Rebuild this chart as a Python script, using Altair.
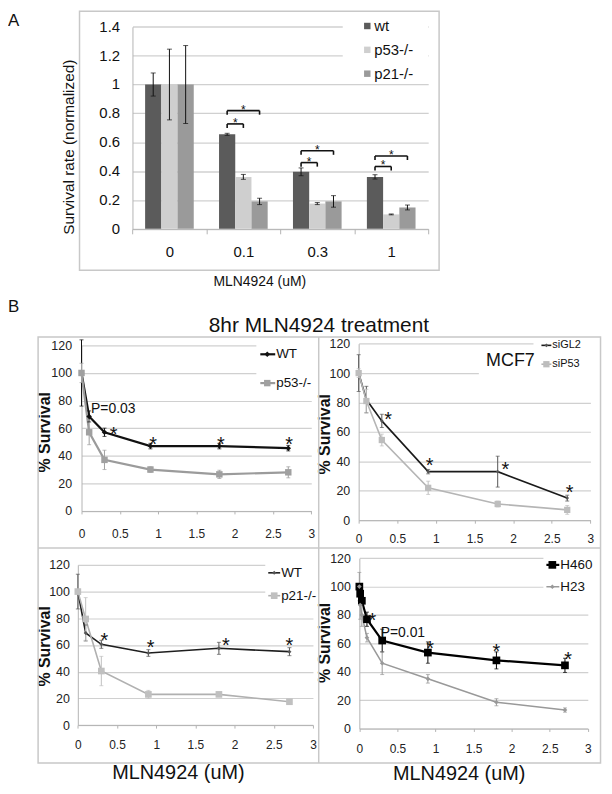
import altair as alt
import pandas as pd

FONT = "Liberation Sans"
W, H = 600, 780
AXC = "#b3b3b3"
GRIDC = "#d0d0d0"
FRAMEC = "#c8c8c8"

# ---------------- Panel A values ----------------
doses_a = ["0", "0.1", "0.3", "1"]
series_a = ["wt", "p53-/-", "p21-/-"]
colors_a = ["#5b5b5b", "#cfcfcf", "#9a9a9a"]
wt_vals = [1.0, 0.655, 0.395, 0.36]
wt_errs = [0.08, 0.007, 0.027, 0.015]
p53_vals = [1.0, 0.36, 0.175, 0.10]
p53_errs = [0.245, 0.017, 0.007, 0.003]
p21_vals = [1.0, 0.19, 0.19, 0.148]
p21_errs = [0.27, 0.022, 0.04, 0.017]
sig_doses = ["0.1", "0.3", "1"]
sig_short = [0.727, 0.459, 0.432]
sig_long = [0.819, 0.541, 0.505]
yticks_a = [0, 0.2, 0.4, 0.6, 0.8, 1.0, 1.2, 1.4]

# ---------------- Panel B values ----------------
x_b = [0, 0.1, 0.3, 0.9, 1.8, 2.7]
x_h = [0, 0.011, 0.033, 0.1, 0.3, 0.9, 1.8, 2.7]
xticks_b = [0, 0.5, 1, 1.5, 2, 2.5, 3]
yticks_b = [0, 20, 40, 60, 80, 100, 120]

tl_names = ["WT", "p53-/-"]
tl_wt = [100, 68.5, 57, 47, 47, 45.5]
tl_wt_err = [24, 4, 3, 2, 2, 2]
tl_p53 = [100, 57, 37, 30, 26.5, 28]
tl_p53_err = [7, 9, 7, 2, 3, 4]
tl_star_x = [0.42, 0.935, 1.82, 2.71]
tl_star_y = [59, 51.6, 52, 52]

tr_names = ["siGL2", "siP53"]
tr_gl2 = [100, 82, 67.5, 33, 33, 15]
tr_gl2_err = [12.5, 9, 4.5, 1.5, 10.5, 2]
tr_p53 = [100, 81, 54.5, 22, 11, 7]
tr_p53_err = [3, 8, 4, 4.5, 2, 3]
tr_star_x = [0.38, 0.92, 1.9, 2.73]
tr_star_y = [71.6, 40.7, 37.8, 22]

bl_names = ["WT", "p21-/-"]
bl_wt = [100, 69, 60.5, 54, 57.5, 55]
bl_wt_err = [13, 6, 3, 2.5, 4.5, 3]
bl_p21 = [100, 79.5, 40.5, 23, 23, 17.5]
bl_p21_err = [1, 16, 11, 3, 1.5, 1.5]
bl_star_x = [0.34, 0.93, 1.89, 2.70]
bl_star_y = [67, 61.7, 63, 63.6]

br_names = ["H460", "H23"]
br_h460 = [100, 95, 90, 77, 62, 53.5, 48, 44.5]
br_h460_err = [2, 3, 3, 5, 8, 7.5, 6, 5]
br_h23 = [100, 87, 80, 64, 46, 35, 18.5, 13]
br_h23_err = [10, 10, 8, 3, 8, 3, 2.5, 1.5]
br_star_x = [0.17, 0.93, 1.8, 2.74]
br_star_y = [79.9, 60, 58, 52.3]

TITLE_B = "8hr MLN4924 treatment"
XTITLE = "MLN4924 (uM)"
YTITLE_A = "Survival rate (normalized)"
YTITLE_B = "% Survival"

ONE = pd.DataFrame({"k": [0]})


def qscale(domain, rng):
    return alt.Scale(domain=domain, range=rng, nice=False)


def nscale(domain, rng):
    return alt.Scale(domain=domain, range=rng)


def box(x, x2, y, y2, **mk):
    return alt.Chart(ONE).mark_rect(**mk).encode(
        x=alt.value(x), x2=alt.value(x2), y=alt.value(y), y2=alt.value(y2))


def vline(x, y, y2, **mk):
    return alt.Chart(ONE).mark_rule(**mk).encode(
        x=alt.value(x), y=alt.value(y), y2=alt.value(y2))


def hline(y, x, x2, **mk):
    return alt.Chart(ONE).mark_rule(**mk).encode(
        y=alt.value(y), x=alt.value(x), x2=alt.value(x2))


def text_at(txt, x, y, **mk):
    return alt.Chart(pd.DataFrame({"t": [txt]})).mark_text(**mk).encode(
        x=alt.value(x), y=alt.value(y), text="t:N")


layers = []

# ---------------- frames ----------------
layers.append(box(72, 434, 0.75, 261.3, fillOpacity=0, stroke=FRAMEC, strokeWidth=1.5))
layers.append(box(30.3, 596.5, 328.7, 757.5, fillOpacity=0, stroke=FRAMEC, strokeWidth=1.5))
layers.append(vline(312.8, 328.7, 757.5, color=FRAMEC, strokeWidth=1.5))
layers.append(hline(541, 30.3, 596.5, color=FRAMEC, strokeWidth=1.5))

# ---------------- Panel A ----------------
AX0, AX1 = 125.3, 423.0
AY0, AY1 = 219.7, 16.3
ys_a = qscale([0, 1.4], [AY0, AY1])
xb_a = alt.Scale(type="band", domain=doses_a, range=[AX0, AX1], paddingInner=0, paddingOuter=0)
xl_a = qscale([0, 4], [AX0, AX1])
PO = 0.78
frac = 1 / (3 + 2 * PO)

rows = []
for si, (name, vals, errs) in enumerate(zip(series_a, [wt_vals, p53_vals, p21_vals],
                                             [wt_errs, p53_errs, p21_errs])):
    for di, (d, v, e) in enumerate(zip(doses_a, vals, errs)):
        rows.append(dict(dose=d, series=name, v=v, e=e, xc=di + 0.5 + (si - 1) * frac))
df_a = pd.DataFrame(rows)

yax_a = alt.Axis(orient="left", offset=-AX0, values=yticks_a, grid=True,
                 gridColor=GRIDC, gridWidth=1.3, ticks=False, domainColor=AXC,
                 labels=False, title=YTITLE_A, titleFont=FONT, titleFontSize=15.5,
                 titleFontWeight="normal", titleColor="#111", titleX=69 - AX0, titleY=137)
xax_a = alt.Axis(orient="bottom", offset=AY0 - H, tickBand="extent", ticks=True, tickSize=5,
                 tickColor=AXC, domainColor=AXC, labelAngle=0, labelFont=FONT,
                 labelFontSize=15, labelColor="#111", labelPadding=11, grid=False,
                 title=XTITLE, titleFont=FONT, titleFontSize=14, titleFontWeight="normal",
                 titleColor="#111", titleX=253, titleY=46)

# legend mask (hides gridlines behind the legend box)
layers.append(box(337, 423, 5, 56, color="white"))

layers.append(alt.Chart(df_a).mark_bar().encode(
    x=alt.X("dose:N", scale=xb_a, sort=doses_a, axis=xax_a),
    xOffset=alt.XOffset("series:N", scale=alt.Scale(domain=series_a, paddingInner=0,
                                                     paddingOuter=PO), sort=series_a),
    y=alt.Y("v:Q", scale=ys_a, axis=None),
    color=alt.Color("series:N", scale=nscale(series_a, colors_a), legend=None),
))

# y tick labels of panel A, placed through the y scale
ylab_a = pd.DataFrame({"v": yticks_a, "t": [f"{v:g}" for v in yticks_a]})
layers.append(alt.Chart(ylab_a).mark_text(align="right", baseline="middle", font=FONT,
                                          fontSize=15, color="#111").encode(
    x=alt.value(AX0 - 12.5), y=alt.Y("v:Q", scale=ys_a, axis=None), text="t:N"))

err_a = alt.Chart(df_a).transform_calculate(lo="datum.v - datum.e", hi="datum.v + datum.e")
layers.append(err_a.mark_rule(color="#111", strokeWidth=1).encode(
    x=alt.X("xc:Q", scale=xl_a, axis=None),
    y=alt.Y("lo:Q", scale=ys_a, axis=yax_a), y2="hi:Q"))
layers.append(err_a.transform_fold(["lo", "hi"], as_=["end", "ev"]).mark_tick(
    color="#111", orient="horizontal", size=5, thickness=1).encode(
    x=alt.X("xc:Q", scale=xl_a, axis=None),
    y=alt.Y("ev:Q", scale=ys_a, axis=None)))

br_rows, end_rows, star_rows = [], [], []
for d, hs, hl in zip(sig_doses, sig_short, sig_long):
    di = doses_a.index(d)
    x_wt, x_p53, x_p21 = di + 0.5 - frac, di + 0.5, di + 0.5 + frac
    for x2, h in ((x_p53, hs), (x_p21, hl)):
        br_rows.append(dict(x1=x_wt, x2=x2, h=h))
        end_rows += [dict(xe=x_wt, h=h), dict(xe=x2, h=h)]
        star_rows.append(dict(xs=(x_wt + x2) / 2, h=h, t="*"))

layers.append(alt.Chart(pd.DataFrame(br_rows)).mark_rule(color="#111", strokeWidth=1.6).encode(
    x=alt.X("x1:Q", scale=xl_a, axis=None), x2="x2:Q",
    y=alt.Y("h:Q", scale=ys_a, axis=None)))
layers.append(alt.Chart(pd.DataFrame(end_rows)).transform_calculate(h2="datum.h - 0.028")
              .mark_rule(color="#111", strokeWidth=1.6).encode(
    x=alt.X("xe:Q", scale=xl_a, axis=None),
    y=alt.Y("h:Q", scale=ys_a, axis=None), y2="h2:Q"))
layers.append(alt.Chart(pd.DataFrame(star_rows)).mark_text(
    font=FONT, fontSize=12, baseline="alphabetic", dy=3, color="#111").encode(
    x=alt.X("xs:Q", scale=xl_a, axis=None),
    y=alt.Y("h:Q", scale=ys_a, axis=None), text="t:N"))

leg_a = pd.DataFrame({"series": series_a})
ly_a = alt.Y("series:N", scale=alt.Scale(type="point", domain=series_a, range=[15.5, 63.5],
                                         padding=0), axis=None)
layers.append(alt.Chart(leg_a).mark_square(size=42, opacity=1).encode(
    x=alt.value(361.7), y=ly_a,
    color=alt.Color("series:N", scale=nscale(series_a, colors_a), legend=None)))
layers.append(alt.Chart(leg_a).mark_text(align="left", baseline="middle", fontSize=15,
                                         font=FONT, color="#111").encode(
    x=alt.value(368.7), y=ly_a, text="series:N"))

# ---------------- Panel B ----------------


def line_panel(p):
    xs = qscale([0, 3], p["xr"])
    ys = qscale([0, 120], p["yr"])
    names = p["names"]
    rows = []
    for name, vals, errs in zip(names, p["vals"], p["errs"]):
        for xv, v, e in zip(p["x"], vals, errs):
            rows.append({"x": xv, "series": name, "v": v, "e": e})
    df = pd.DataFrame(rows)
    lc = alt.Color("series:N", scale=nscale(names, p["line_colors"]), legend=None)
    mc = alt.Color("series:N", scale=nscale(names, p["mark_colors"]), legend=None)
    sw = alt.StrokeWidth("series:N", scale=nscale(names, p["widths"]), legend=None)
    sh = alt.Shape("series:N", scale=nscale(names, p["shapes"]), legend=None)
    sz = alt.Size("series:N", scale=nscale(names, p["sizes"]), legend=None)
    X = alt.X("x:Q", scale=xs, axis=None)
    Y = alt.Y("v:Q", scale=ys, axis=None)

    xkw = dict(orient="bottom", offset=p["yr"][0] - H, values=xticks_b, format="~g",
               labelFlush=False, grid=False, ticks=True, tickSize=3, tickColor=AXC,
               domainColor=AXC, labelFont=FONT, labelFontSize=12, labelColor="#222",
               labelPadding=p["xpad"], title=p.get("xtitle"))
    if p.get("xtitle"):
        xkw.update(titleFont=FONT, titleFontSize=20, titleFontWeight="normal",
                   titleColor="#111", titleX=p["xtx"], titleY=p["xty"])
    ykw = dict(orient="left", offset=-p["xr"][0], values=yticks_b, labelFlush=False,
               grid=True, gridColor=GRIDC, gridWidth=1.2, ticks=False, domainColor=AXC,
               labelFont=FONT, labelFontSize=12.5, labelColor="#222",
               labelPadding=p["ypad"], title=YTITLE_B, titleFont=FONT, titleFontSize=16,
               titleFontWeight="bold", titleColor="#111", titleX=p["ytx"], titleY=p["yty"])

    out = []
    for m in p["masks"]:
        out.append(box(*m, color="white"))
    out.append(alt.Chart(df).mark_line().encode(
        x=alt.X("x:Q", scale=xs, axis=alt.Axis(**xkw)),
        y=alt.Y("v:Q", scale=ys, axis=alt.Axis(**ykw)),
        color=lc, strokeWidth=sw))
    eb = alt.Chart(df).transform_calculate(lo="datum.v - datum.e", hi="datum.v + datum.e")
    out.append(eb.mark_rule(strokeWidth=1).encode(
        x=X, y=alt.Y("lo:Q", scale=ys, axis=None), y2="hi:Q", color=mc))
    out.append(eb.transform_fold(["lo", "hi"], as_=["end", "ev"]).mark_tick(
        orient="horizontal", size=4, thickness=1).encode(
        x=X, y=alt.Y("ev:Q", scale=ys, axis=None), color=mc))
    out.append(alt.Chart(df).mark_point(filled=True, opacity=1).encode(
        x=X, y=Y, color=mc, shape=sh, size=sz))
    sdf = pd.DataFrame({"x": p["star_x"], "v": p["star_y"], "t": ["*"] * len(p["star_x"])})
    out.append(alt.Chart(sdf).mark_text(font=FONT, fontSize=20, baseline="alphabetic",
                                        dy=11.5, color="#111").encode(x=X, y=Y, text="t:N"))
    for (t, tx, ty, al, fs) in p.get("notes", []):
        ndf = pd.DataFrame({"x": [tx], "v": [ty], "t": [t]})
        out.append(alt.Chart(ndf).mark_text(font=FONT, fontSize=fs, align=al,
                                            baseline="middle", color="#111").encode(
            x=X, y=Y, text="t:N"))
    lg = p["leg"]
    ldf = pd.DataFrame({"series": names})
    ly = alt.Y("series:N", scale=alt.Scale(type="point", domain=names, range=lg["ly"],
                                           padding=0), axis=None)
    out.append(alt.Chart(ldf).mark_rule().encode(
        x=alt.value(lg["lx0"]), x2=alt.value(lg["lx1"]), y=ly, color=lc, strokeWidth=sw))
    out.append(alt.Chart(ldf).mark_point(filled=True, opacity=1).encode(
        x=alt.value(lg["lmx"]), y=ly, color=mc, shape=sh, size=sz))
    out.append(alt.Chart(ldf).mark_text(align="left", baseline="middle", font=FONT,
                                        fontSize=lg["fs"], color="#111").encode(
        x=alt.value(lg["ltx"]), y=ly, text="series:N"))
    return out


TL = dict(x=x_b, names=tl_names, vals=[tl_wt, tl_p53], errs=[tl_wt_err, tl_p53_err],
          xr=[74, 305.3], yr=[503.7, 337],
          line_colors=["#111111", "#9b9b9b"], mark_colors=["#111111", "#a0a0a0"],
          widths=[2.2, 2.2], shapes=["diamond", "square"], sizes=[30, 42],
          xpad=15, ypad=10, ytx=-29, yty=424,
          star_x=tl_star_x, star_y=tl_star_y,
          notes=[("P=0.03", 0.125, 74, "left", 14)],
          masks=[(250, 306, 331, 378)],
          leg=dict(lx0=254, lx1=269, lmx=261, ltx=270, ly=[346, 375], fs=13.5))
TR = dict(x=x_b, names=tr_names, vals=[tr_gl2, tr_p53], errs=[tr_gl2_err, tr_p53_err],
          xr=[353, 586.3], yr=[513, 335.3],
          line_colors=["#1a1a1a", "#b5b5b5"], mark_colors=["#555555", "#bdbdbd"],
          widths=[1.6, 1.6], shapes=["diamond", "square"], sizes=[14, 40],
          xpad=10, ypad=9, ytx=-26, yty=426,
          star_x=tr_star_x, star_y=tr_star_y,
          notes=[("MCF7", 2.28, 108, "right", 18)],
          masks=[(529, 587, 330, 350), (474, 587, 350, 378)],
          leg=dict(lx0=537, lx1=547, lmx=542, ltx=548, ly=[337, 356], fs=11))
BL = dict(x=x_b, names=bl_names, vals=[bl_wt, bl_p21], errs=[bl_wt_err, bl_p21_err],
          xr=[70.3, 307], yr=[719.3, 558],
          line_colors=["#1e1e1e", "#b0b0b0"], mark_colors=["#555555", "#c0c0c0"],
          widths=[1.6, 1.6], shapes=["diamond", "square"], sizes=[16, 45],
          xpad=12, ypad=8.5, ytx=-25.3, yty=639.5,
          star_x=bl_star_x, star_y=bl_star_y,
          masks=[(259, 308, 550, 596)],
          xtitle=XTITLE, xtx=171, xty=38,
          leg=dict(lx0=262, lx1=274, lmx=268, ltx=275, ly=[566, 589], fs=13.5))
BR = dict(x=x_h, names=br_names, vals=[br_h460, br_h23], errs=[br_h460_err, br_h23_err],
          xr=[353.7, 583.7], yr=[722.7, 551.3],
          line_colors=["#000000", "#999999"], mark_colors=["#000000", "#999999"],
          widths=[2.2, 1.5], shapes=["square", "diamond"], sizes=[60, 22],
          xpad=12, ypad=9, ytx=-26.7, yty=636,
          star_x=br_star_x, star_y=br_star_y,
          notes=[("P=0.01", 0.28, 67.5, "left", 14)],
          masks=[(539, 585, 545, 592)],
          xtitle=XTITLE, xtx=453.7, xty=35.5,
          leg=dict(lx0=542, lx1=555, lmx=548, ltx=556, ly=[558, 580], fs=13.5))

for p in (TL, TR, BL, BR):
    layers += line_panel(p)

# ---------------- panel letters and B title ----------------
layers.append(text_at("A", 0, 15, font=FONT, fontSize=17, align="left",
                      baseline="alphabetic", color="#111"))
layers.append(text_at("B", 0, 303, font=FONT, fontSize=17, align="left",
                      baseline="alphabetic", color="#111"))
layers.append(text_at(TITLE_B, 313, 324, font=FONT, fontSize=21, align="center",
                      baseline="alphabetic", color="#111"))

chart = alt.layer(*layers).resolve_scale(
    x="independent", y="independent", color="independent", shape="independent",
    size="independent", strokeWidth="independent", xOffset="independent",
).properties(
    width=W, height=H, padding=0, autosize=alt.AutoSizeParams(type="none"),
    background="white",
).configure_view(stroke=None)

chart.save("out.html", embed_options={"renderer": "svg", "actions": False})
